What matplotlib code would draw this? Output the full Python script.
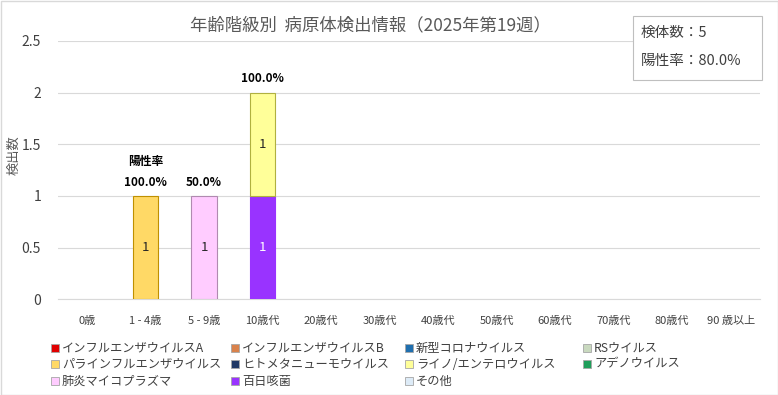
import matplotlib
matplotlib.use("Agg")
import matplotlib.pyplot as plt
from matplotlib.patches import Rectangle
import numpy as np

plt.rcParams['font.family'] = ['Noto Sans CJK JP', 'DejaVu Sans']

# ---- data ----
categories = ["0歳", "1 - 4歳", "5 - 9歳", "10歳代", "20歳代", "30歳代", "40歳代",
              "50歳代", "60歳代", "70歳代", "80歳代", "90 歳以上"]
pathogens = ["インフルエンザウイルスA", "インフルエンザウイルスB", "新型コロナウイルス", "RSウイルス",
             "パラインフルエンザウイルス", "ヒトメタニューモウイルス", "ライノ/エンテロウイルス", "アデノウイルス",
             "肺炎マイコプラズマ", "百日咳菌", "その他"]
colors = ["#E00000", "#D9824B", "#1F6FAF", "#C9D9BF",
          "#FFD966", "#203864", "#FFFF99", "#1E9E5A",
          "#FFCCFF", "#9933FF", "#DDEBF7"]
edges = ["#A00000", "#A0603A", "#15507F", "#8A9A80",
         "#BF9000", "#101C32", "#B0B040", "#147040",
         "#B08AB0", "#9933FF", "#90A0B0"]

flu_a        = [0, 0, 0, 0, 0, 0, 0, 0, 0, 0, 0, 0]
flu_b        = [0, 0, 0, 0, 0, 0, 0, 0, 0, 0, 0, 0]
covid        = [0, 0, 0, 0, 0, 0, 0, 0, 0, 0, 0, 0]
rsv          = [0, 0, 0, 0, 0, 0, 0, 0, 0, 0, 0, 0]
parainfluenza= [0, 1, 0, 0, 0, 0, 0, 0, 0, 0, 0, 0]
hmpv         = [0, 0, 0, 0, 0, 0, 0, 0, 0, 0, 0, 0]
rhino_entero = [0, 0, 0, 1, 0, 0, 0, 0, 0, 0, 0, 0]
adeno        = [0, 0, 0, 0, 0, 0, 0, 0, 0, 0, 0, 0]
mycoplasma   = [0, 0, 1, 0, 0, 0, 0, 0, 0, 0, 0, 0]
pertussis    = [0, 0, 0, 1, 0, 0, 0, 0, 0, 0, 0, 0]
other        = [0, 0, 0, 0, 0, 0, 0, 0, 0, 0, 0, 0]
series = [flu_a, flu_b, covid, rsv, parainfluenza, hmpv, rhino_entero, adeno,
          mycoplasma, pertussis, other]
stack_order = [9, 0, 1, 2, 3, 4, 5, 7, 8, 6, 10]  # 百日咳菌 drawn at bottom

positive_rate = [None, 100.0, 50.0, 100.0, None, None, None, None, None, None, None, None]
specimens = 5
overall_rate = 80.0
title = "年齢階級別  病原体検出情報（2025年第19週）"

# ---- figure ----
W, H = 778, 395
fig = plt.figure(figsize=(W / 100, H / 100), dpi=100)
fig.patch.set_facecolor("white")

def fx(px):
    return px / W

def fy(py):
    return 1 - py / H

left, right, top, bottom = 57.7, 760, 41, 299.3
ax = fig.add_axes([fx(left), fy(bottom), fx(right - left), (bottom - top) / H])

x = np.arange(len(categories))
width = 0.44
base = np.zeros(len(categories))
for idx in stack_order:
    vals = np.array(series[idx], dtype=float)
    mask = vals > 0
    if mask.any():
        ax.bar(x[mask], vals[mask], width, bottom=base[mask], color=colors[idx],
               edgecolor=edges[idx], linewidth=0.8, zorder=3)
    for i in np.where(mask)[0]:
        v = vals[i]
        tc = "white" if idx in (9, 5, 2) else "#262626"
        ax.text(x[i], base[i] + v / 2, f"{int(v)}", ha="center", va="center",
                fontsize=9.5, color=tc, zorder=4)
    base += vals

totals = base
first = True
for i, r in enumerate(positive_rate):
    if r is None:
        continue
    ax.text(x[i], totals[i] + 0.07, f"{r:.1f}%", ha="center", va="bottom",
            fontsize=8.5, fontweight="bold", color="#000000", zorder=5)
    if first:
        ax.text(x[i], totals[i] + 0.27, "陽性率", ha="center", va="bottom",
                fontsize=8.5, fontweight="bold", color="#000000", zorder=5)
        first = False

ax.set_xlim(-0.5, len(categories) - 0.5)
ax.set_ylim(0, 2.5)
ax.set_yticks([0, 0.5, 1, 1.5, 2, 2.5])
ax.set_yticklabels(["0", "0.5", "1", "1.5", "2", "2.5"])
ax.set_xticks(x)
ax.set_xticklabels(categories)
ax.tick_params(axis="y", length=0, pad=12, labelsize=10, labelcolor="#404040")
ax.tick_params(axis="x", length=0, pad=12, labelsize=8, labelcolor="#404040")
ax.grid(axis="y", color="#D9D9D9", linewidth=0.8, zorder=0)
for s in ["top", "right", "left"]:
    ax.spines[s].set_visible(False)
ax.spines["bottom"].set_color("#D9D9D9")
ax.spines["bottom"].set_linewidth(0.8)
ax.set_facecolor("white")

# y label
fig.text(fx(14), fy(155), "検出数", rotation=90, ha="center", va="center",
         fontsize=9.5, color="#595959")

# title
fig.text(fx(370), fy(25), title, ha="center", va="center", fontsize=12.5, color="#595959")

# summary box
fig.add_artist(Rectangle((fx(633), fy(80)), fx(762 - 633), (80 - 16) / H,
                         transform=fig.transFigure, facecolor="white",
                         edgecolor="#BFBFBF", linewidth=0.8))
fig.text(fx(641), fy(33), f"検体数：{specimens}", ha="left", va="center",
         fontsize=10.5, color="#404040")
fig.text(fx(641), fy(61), f"陽性率：{overall_rate:.1f}%", ha="left", va="center",
         fontsize=10.5, color="#404040")

# legend (manual grid, row-wise)
col_x = [55, 235, 409, 587]
row_y = [348, 364, 381]
for i, name in enumerate(pathogens):
    c, r = i % 4, i // 4
    mx, my = col_x[c], row_y[r]
    fig.add_artist(Rectangle((fx(mx - 4), fy(my + 4)), fx(8), 8 / H,
                             transform=fig.transFigure, facecolor=colors[i],
                             edgecolor="#A6A6A6", linewidth=0.6))
    fig.text(fx(mx + 7), fy(my), name, ha="left", va="center", fontsize=8.8,
             color="#404040")

# outer border
fig.add_artist(Rectangle((0.5 / W, 0.5 / H), 1 - 1 / W, 1 - 1 / H,
                         transform=fig.transFigure, fill=False,
                         edgecolor="#D9D9D9", linewidth=1))

fig.savefig("out.png", dpi=100, facecolor="white")
